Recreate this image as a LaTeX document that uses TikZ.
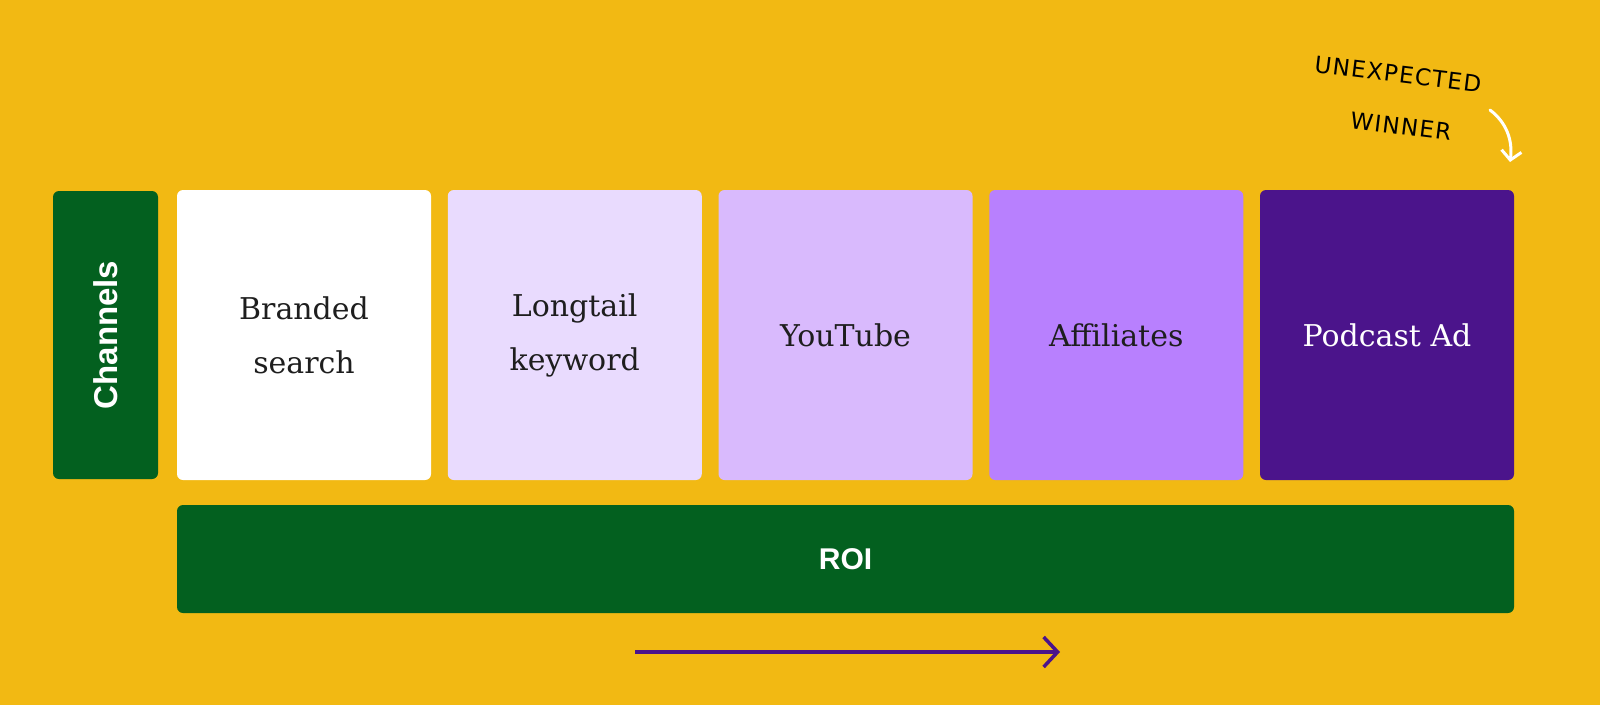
\documentclass[tikz,border=0pt]{standalone}
\usepackage{fontspec}
\usetikzlibrary{arrows.meta,positioning}
\setmainfont{DejaVu Serif}
\newfontfamily\axisfont{Liberation Sans}
\newfontfamily\handfont[LetterSpace=6]{DejaVu Sans}
\definecolor{bgyellow}{HTML}{F2B913}
\definecolor{axisgreen}{HTML}{03601F}
\definecolor{tintA}{HTML}{E9DBFE}
\definecolor{tintB}{HTML}{D9BAFD}
\definecolor{tintC}{HTML}{B880FE}
\definecolor{tintD}{HTML}{4B148B}
\definecolor{inkgray}{HTML}{1E1E1E}
\tikzset{
  channel/.style={rectangle,rounded corners=6pt,minimum width=254pt,minimum height=290pt,
    inner sep=0pt,outer sep=0pt,align=center,text=inkgray,font=\fontsize{30}{54}\selectfont},
  axisbox/.style={rectangle,rounded corners=6pt,fill=axisgreen,inner sep=0pt,outer sep=0pt,
    text=white,font=\axisfont\bfseries\fontsize{30}{36}\selectfont},
  hand/.style={inner sep=0pt,font=\handfont\fontsize{23}{26}\selectfont,text=black},
  hint/.style={line width=3pt,white,line cap=round,-{Straight Barb[length=9pt,width=20pt,line width=3pt]}},
  trend/.style={line width=3.5pt,tintD,-{Straight Barb[length=14pt,width=30pt,line width=3.5pt]}},
}
\begin{document}
\begin{tikzpicture}[x=1pt,y=-1pt]
    \fill[bgyellow] (0,0) rectangle (1600,705);
    \useasboundingbox (0,0) rectangle (1600,705);
    % --- axis label on the left ---
    \node[axisbox,rotate=90,minimum width=288pt,minimum height=105pt,font=\axisfont\bfseries\fontsize{33}{36}\selectfont] (chan) at (105.5,335) {Channels};
    % --- channel boxes, lowest to highest return ---
    \node[channel,fill=white] (branded) at (304,335) {Branded\\search};
    \node[channel,fill=tintA,right=16.75pt of branded] (longtail) {Longtail\\keyword};
    \node[channel,fill=tintB,right=16.75pt of longtail] (youtube) {YouTube};
    \node[channel,fill=tintC,right=16.75pt of youtube] (affil) {Affiliates};
    \node[channel,fill=tintD,text=white,right=16.75pt of affil] (podcast) {Podcast Ad};
    % --- return axis ---
    \node[axisbox,minimum width=1337pt,minimum height=108pt] (roi) at (845.5,559) {ROI};
    \coordinate (trendstart) at (635,652);
    \coordinate (trendend) at (1060,652);
    \draw[trend] (trendstart) -- (trendend);
    % --- handwritten note ---
    \node[hand,rotate=-7] (noteA) at (1398,74) {UNEXPECTED};
    \node[hand,rotate=-7] (noteB) at (1401,126) {WINNER};
    \coordinate (hintstart) at (1490,110);
    \coordinate (hintend) at (1510,162);
    \draw[hint] (hintstart) .. controls (1506,122) and (1513,140) .. (hintend);
\end{tikzpicture}
\end{document}
